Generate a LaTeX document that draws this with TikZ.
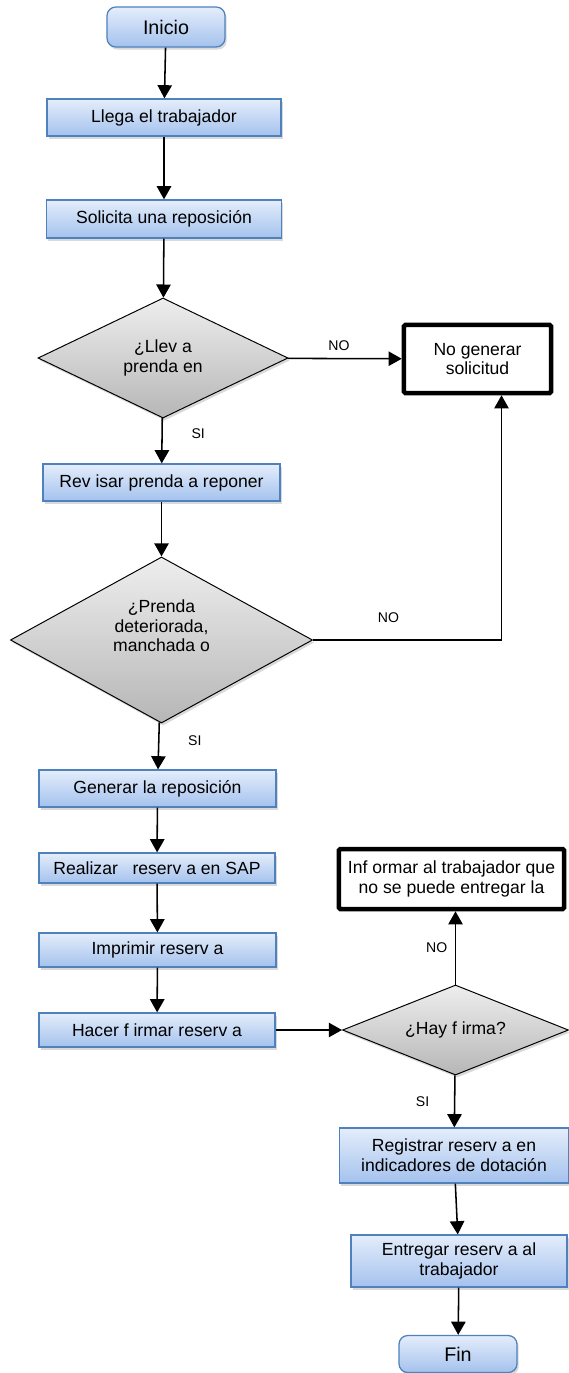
\documentclass[tikz,border=0pt]{standalone}
\usepackage{fontspec}
\setmainfont{Liberation Sans}
\usepackage{tikz}
\usetikzlibrary{arrows.meta, shapes.geometric, shadows}

\definecolor{boxtop}{RGB}{228,237,251}
\definecolor{boxbottom}{RGB}{164,194,237}
\definecolor{boxline}{RGB}{79,129,189}
\definecolor{decitop}{RGB}{238,238,238}
\definecolor{decibottom}{RGB}{182,182,182}

\begin{document}
\begin{tikzpicture}[
  x=0.025cm, y=-0.025cm,
  font=\fontsize{12.5}{14}\selectfont,
  procbox/.style={rectangle, draw=boxline, line width=0.9pt, top color=boxtop, bottom color=boxbottom, minimum width=5.9cm, minimum height=0.925cm, inner sep=2pt, align=center, drop shadow={opacity=0.3, shadow xshift=1.2pt, shadow yshift=-1.8pt}},
  termbox/.style={procbox, rounded corners=2.2mm, minimum width=2.95cm, minimum height=1cm, font=\fontsize{14}{16}\selectfont},
  decision/.style={diamond, draw=black, line width=0.7pt, top color=decitop, bottom color=decibottom, inner sep=0pt, align=center, drop shadow={opacity=0.3, shadow xshift=1.2pt, shadow yshift=-1.8pt}},
  stopbox/.style={rectangle, draw=black, line width=3.2pt, rounded corners=1pt, fill=white, inner sep=2pt, align=center},
  arrow/.style={-{Triangle[length=3.3mm, width=3.6mm]}, line width=1.1pt},
  tag/.style={font=\fontsize{10}{12}\selectfont}
]
\useasboundingbox (0,0) rectangle (569,1373);

\node[termbox] (inicio) at (166,27) {Inicio};
\node[procbox, minimum width=5.85cm] (llega) at (164,117.5) {Llega el trabajador};
\node[procbox, minimum width=5.875cm, minimum height=0.95cm] (solicita) at (164,219) {Solicita una reposición};
\node[decision, aspect=2.08, minimum width=6.25cm, minimum height=3cm] (lleva) at (163,358) {¿Llev a\\prenda en};
\node[stopbox, minimum width=3.675cm, minimum height=1.7cm] (nogen) at (477.5,359) {No generar\\solicitud};
\node[procbox, minimum width=5.925cm] (revisar) at (161.5,482.5) {Rev isar prenda a reponer};
\node[decision, aspect=1.82, minimum width=7.55cm, minimum height=4.15cm, text depth=20pt] (prenda) at (161.5,640) {¿Prenda\\deteriorada,\\manchada o};
\node[procbox, minimum width=5.925cm] (generar) at (157.5,788.5) {Generar la reposición};
\node[procbox, minimum height=0.75cm] (realizar) at (157,868) {Realizar \ \ reserv a en SAP};
\node[procbox, minimum width=5.925cm, minimum height=0.85cm] (imprimir) at (157.5,950) {Imprimir reserv a};
\node[procbox, minimum height=0.85cm] (hacer) at (157,1030) {Hacer f irmar reserv a};
\node[decision, aspect=2.5, minimum width=5.65cm, minimum height=2.25cm] (firma) at (455.5,1030) {¿Hay f irma?};
\node[stopbox, minimum width=5.625cm, minimum height=1.5cm] (informar) at (451.5,879) {Inf ormar al trabajador que\\no se puede entregar la};
\node[procbox, minimum width=5.725cm, minimum height=1.375cm] (registrar) at (454,1155.5) {Registrar reserv a en\\indicadores de dotación};
\node[procbox, minimum width=5.4cm, minimum height=1.3cm] (entregar) at (459,1261) {Entregar reserv a al\\trabajador};
\node[termbox, minimum height=0.925cm] (fin) at (458,1354) {Fin};

\draw[arrow] (inicio) -- (llega);
\draw[arrow] (llega) -- (solicita);
\draw[arrow] (solicita) -- (lleva);
\draw[arrow] (lleva) -- node[tag, above=2pt, pos=0.45]{NO} (nogen);
\draw[arrow] (lleva) -- node[tag, right=0.6cm, pos=0.35]{SI} (revisar);
\draw[arrow] (revisar) -- (prenda);
\draw[arrow] (prenda.east) -| node[tag, above=0.3cm, pos=0.2]{NO} ([xshift=0.6cm]nogen.south);
\draw[arrow] (prenda) -- node[tag, right=0.6cm, pos=0.4]{SI} (generar);
\draw[arrow] (generar) -- (realizar);
\draw[arrow] (realizar) -- (imprimir);
\draw[arrow] (imprimir) -- (hacer);
\draw[arrow] (hacer) -- (firma);
\draw[arrow] (firma.north) -- node[tag, left=2pt]{NO} (firma.north |- informar.south);
\draw[arrow] (firma) -- node[tag, left=0.5cm]{SI} (registrar);
\draw[arrow] (registrar) -- (entregar);
\draw[arrow] (entregar) -- (fin);
\end{tikzpicture}
\end{document}
